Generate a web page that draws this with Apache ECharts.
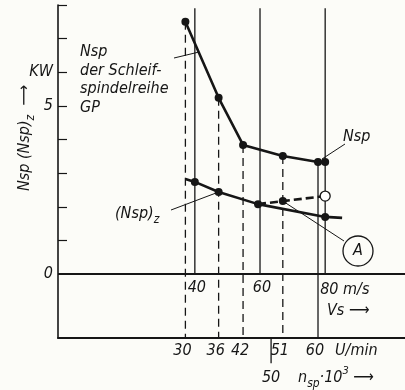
<!DOCTYPE html>
<html>
<head>
<meta charset="utf-8">
<script src="https://cdn.jsdelivr.net/npm/echarts@6/dist/echarts.min.js"></script>
<style>
html,body{margin:0;padding:0;background:#fcfcf8;}
#main{width:405px;height:390px;}
</style>
</head>
<body>
<div id="main"></div>
<script>
// Messpunkte Nsp (obere Kurve), x = Schnittgeschwindigkeit vs in m/s
var vsNsp = [37.1, 47.3, 54.8, 67.0, 77.8, 80.0];
var nsp = [7.50, 5.24, 3.84, 3.51, 3.33, 3.33];
// (Nsp)z untere Kurve, erster und letzter Wert nur Linienende
var vsNspZ = [37.1, 40.0, 47.3, 59.4, 80.0, 85.2];
var nspZ = [2.83, 2.74, 2.44, 2.08, 1.70, 1.67];
// gestrichelter Ast mit Punkt A
var vsNspZDash = [59.4, 67.0, 80.0];
var nspZDash = [2.08, 2.17, 2.32];
// Achsen
var vsTicks = [40, 60, 80];
var vsTickLabels = ['40', '60', '80 m/s'];
var nspTickVs = [37.1, 47.3, 54.8, 67.0, 77.8];
var nspTickLabels = ['30', '36', '42', '51', '60'];
var nspExtraVs = 63.4;
var nspExtraLabel = '50';
var yTicks = [1, 2, 3, 4, 5, 6, 7, 8];
var yLabelValues = [0, 5, 6];
var yLabels = ['0', '5', 'KW'];

var X_MIN = -2, X_MAX = 104.5, Y_MIN = -1.9, Y_MAX = 8;
var FONT = '"Liberation Sans Narrow","DejaVu Sans Condensed","Liberation Sans",sans-serif';
var INK = '#161616';

var myChart = echarts.init(document.getElementById('main'));
var series = [];

//senkrechte Hilfslinien
function vline(x, y1, y2, dashed, w) {
	series.push({
		type : 'line',
		data : [ [ x, y1 ], [ x, y2 ] ],
		symbol : 'none',
		silent : true,
		clip : false,
		z : 1,
		lineStyle : {
			color : INK,
			width : w || 1,
			type : dashed ? [ 8, 5 ] : 'solid'
		}
	});
}
for (var i = 0; i < 4; i++) {
	vline(nspTickVs[i], nsp[i], Y_MIN, true, 1.3);
}
vline(nspTickVs[4], nsp[4], Y_MIN, false, 1.3);
for (var i in vsTicks) {
	vline(vsTicks[i], 7.9, 0, false, 1.3);
}
vline(nspExtraVs, Y_MIN, -2.65, false, 1.3);

// Nulllinie
series.push({
	type : 'line',
	data : [ [ X_MIN, 0 ], [ X_MAX, 0 ] ],
	symbol : 'none',
	silent : true,
	z : 2,
	lineStyle : { color : INK, width : 2 }
});

// Nsp
var upperData = [];
for (var i in vsNsp) {
	upperData.push([ vsNsp[i], nsp[i] ]);
}
series.push({
	type : 'line',
	data : upperData,
	symbol : 'circle',
	symbolSize : 8,
	z : 5,
	itemStyle : { color : INK },
	lineStyle : { color : INK, width : 2.6 }
});

// (Nsp)z
var lowerData = [];
for (var i in vsNspZ) {
	var item = { value : [ vsNspZ[i], nspZ[i] ] };
	if (i == 0 || i == vsNspZ.length - 1) {
		item.symbol = 'none';
	}
	lowerData.push(item);
}
series.push({
	type : 'line',
	data : lowerData,
	symbol : 'circle',
	symbolSize : 8,
	z : 5,
	itemStyle : { color : INK },
	lineStyle : { color : INK, width : 2.6 }
});

// gestrichelt
var dashData = [];
for (var i in vsNspZDash) {
	var item = { value : [ vsNspZDash[i], nspZDash[i] ] };
	if (i == 0) item.symbol = 'none';
	if (i == vsNspZDash.length - 1) {
		item.itemStyle = { color : '#fff', borderColor : INK, borderWidth : 1.3 };
		item.symbolSize = 10;
	}
	dashData.push(item);
}
series.push({
	type : 'line',
	data : dashData,
	symbol : 'circle',
	symbolSize : 8,
	z : 6,
	itemStyle : { color : INK },
	lineStyle : { color : INK, width : 2.6, type : [ 8, 4 ] }
});

var option = {
	backgroundColor : '#fcfcf8',
	animation : false,
	grid : { left : 58, right : 0, top : 5, bottom : 52 },
	xAxis : {
		type : 'value',
		min : X_MIN,
		max : X_MAX,
		axisLine : { onZero : false, lineStyle : { color : INK, width : 2 } },
		axisTick : { show : false },
		axisLabel : { show : false },
		splitLine : { show : false }
	},
	yAxis : {
		type : 'value',
		min : Y_MIN,
		max : Y_MAX,
		axisLine : { show : true, onZero : false, lineStyle : { color : INK, width : 1.6 } },
		axisTick : { show : true, inside : true, length : 9, customValues : yTicks, lineStyle : { color : INK, width : 1.2 } },
		axisLabel : {
			customValues : yLabelValues,
			margin : 5,
			color : INK,
			fontFamily : FONT,
			fontStyle : 'italic',
			fontSize : 16,
			formatter : function(v) {
				return yLabels[yLabelValues.indexOf(Math.round(v))];
			}
		},
		splitLine : { show : false }
	},
	series : series
};
myChart.setOption(option);

function px(v, y) {
	return myChart.convertToPixel({ gridIndex : 0 }, [ v, y ]);
}
var rich = {
	a : { fontFamily : FONT, fontStyle : 'italic', fontSize : 16, color : INK, lineHeight : 24 },
	s : { fontFamily : FONT, fontStyle : 'italic', fontSize : 12, color : INK, verticalAlign : 'bottom', lineHeight : 12 },
	u : { fontFamily : FONT, fontStyle : 'italic', fontSize : 11, color : INK, verticalAlign : 'top', lineHeight : 11 }
};
function txt(x, y, s, align, rot) {
	return {
		type : 'text',
		x : x,
		y : y,
		rotation : rot || 0,
		z : 10,
		style : {
			text : s,
			rich : rich,
			fill : INK,
			font : 'italic 16px ' + FONT,
			align : align || 'center',
			verticalAlign : 'middle'
		}
	};
}
function seg(x1, y1, x2, y2) {
	return {
		type : 'line',
		z : 9,
		shape : { x1 : x1, y1 : y1, x2 : x2, y2 : y2 },
		style : { stroke : INK, lineWidth : 1 }
	};
}
var g = [];
// vs Beschriftung
for (var i in vsTicks) {
	var p = px(vsTicks[i], 0);
	if (i == vsTicks.length - 1) {
		g.push(txt(p[0] - 5, p[1] + 16, vsTickLabels[i], 'left'));
	} else {
		g.push(txt(p[0] + 2, p[1] + 14, vsTickLabels[i]));
	}
}
g.push(txt(327, 311, 'Vs \u27F6', 'left'));
// nsp Beschriftung
for (var i in nspTickVs) {
	var p = px(nspTickVs[i], Y_MIN);
	g.push(txt(p[0] - 3, p[1] + 13, nspTickLabels[i]));
}
var p50 = px(nspExtraVs, Y_MIN);
g.push(txt(p50[0], p50[1] + 40, nspExtraLabel));
g.push(txt(335, p50[1] + 13, 'U/min', 'left'));
g.push(txt(298, p50[1] + 40, '{a|n}{s|sp}{a|\u00B710}{u|3}{a| \u27F6}', 'left'));
// Achsentitel
g.push(txt(25, 138, '{a|Nsp (Nsp)}{s|z}{a|  \u27F6}', 'center', Math.PI / 2));
// Kurvenbezeichnungen
g.push({
	type : 'text',
	x : 80,
	y : 43,
	z : 10,
	style : {
		text : 'Nsp\nder Schleif-\nspindelreihe\nGP',
		font : 'italic 16px ' + FONT,
		fill : INK,
		lineHeight : 18.5
	}
});
g.push(seg(174, 58, 199, 52));
g.push(txt(343, 137, 'Nsp', 'left'));
g.push(seg(345, 144, 322, 159));
g.push(txt(115, 214, '{a|(Nsp)}{s|z}', 'left'));
var pz = px(vsNspZ[2], nspZ[2]);
g.push(seg(171, 210, pz[0], pz[1]));
var pa = px(vsNspZDash[1], nspZDash[1]);
g.push(seg(344, 241, pa[0], pa[1]));
g.push({
	type : 'circle',
	z : 10,
	shape : { cx : 358, cy : 251, r : 15 },
	style : { fill : '#fcfcf8', stroke : INK, lineWidth : 1.3 }
});
g.push(txt(358, 251, 'A'));

myChart.setOption({ graphic : g });
</script>
</body>
</html>
